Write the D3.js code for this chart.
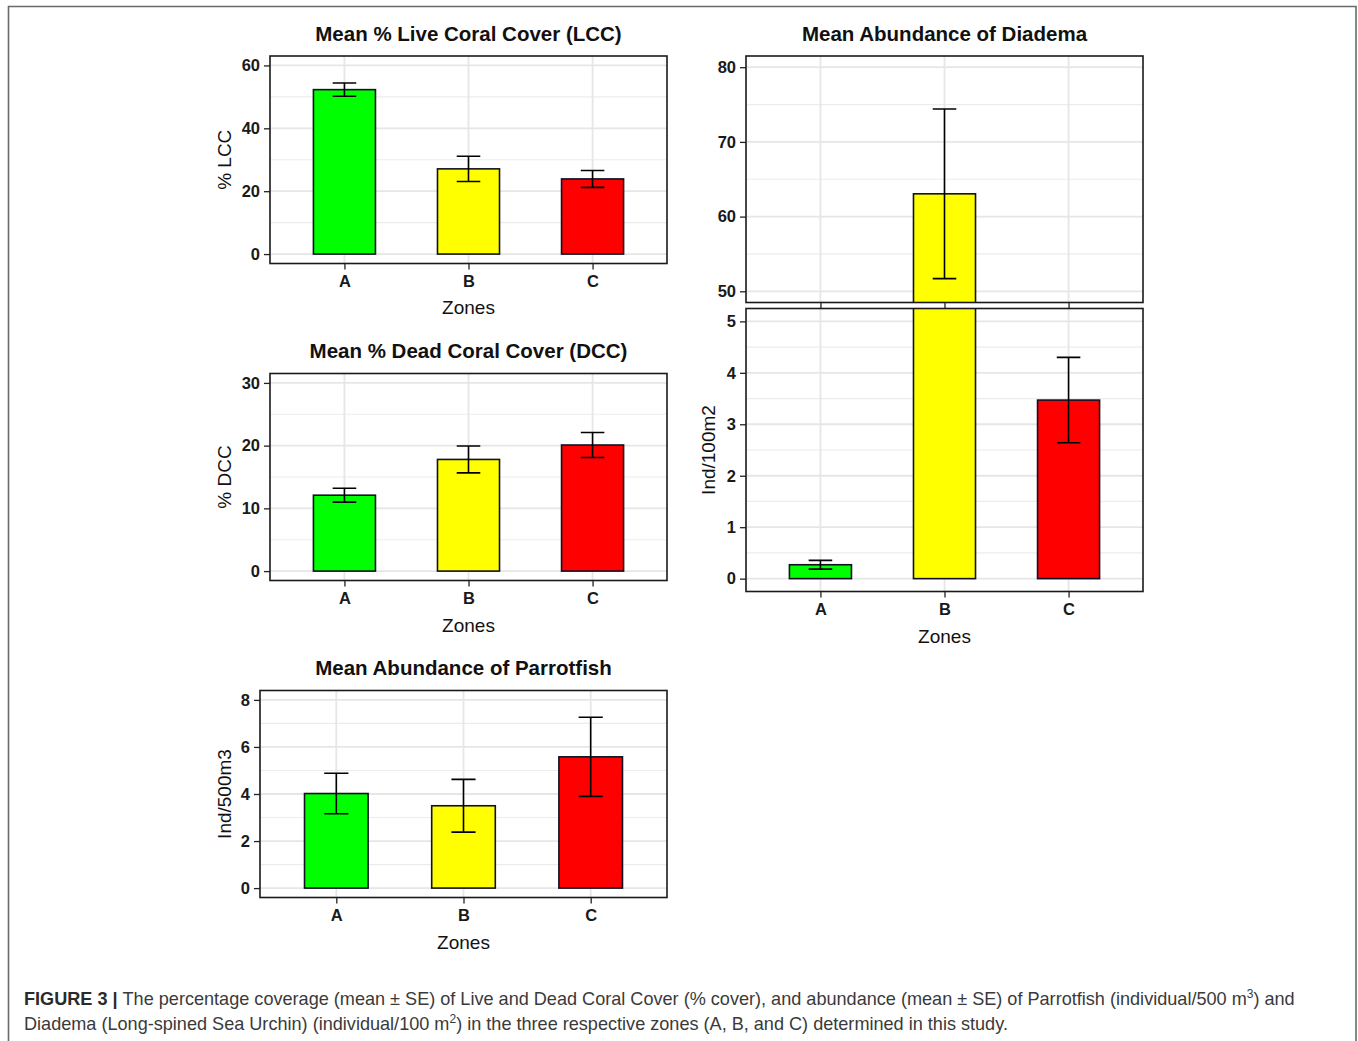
<!DOCTYPE html>
<html>
<head>
<meta charset="utf-8">
<script src="https://cdn.jsdelivr.net/npm/d3@7"></script>
<style>
  html, body { margin: 0; padding: 0; background: #fff; }
  svg { display: block; }
</style>
</head>
<body>
<svg id="chart" width="1358" height="1041"></svg>
<script>
// ---------------- DATA ----------------
const zones = ["A", "B", "C"];
const barColors = ["#00ff00", "#ffff00", "#ff0000"];

const lccMean = [52.3, 27.1, 23.9];
const lccSE   = [2.1, 4.0, 2.7];
const lccTicks = [0, 20, 40, 60];
const lccLimits = [0, 60];

const dccMean = [12.1, 17.8, 20.1];
const dccSE   = [1.1, 2.15, 2.0];
const dccTicks = [0, 10, 20, 30];
const dccLimits = [0, 30];

const parrotMean = [4.02, 3.5, 5.58];
const parrotSE   = [0.86, 1.12, 1.68];
const parrotTicks = [0, 2, 4, 6, 8];
const parrotLimits = [0, 8];

const diademaMean = [0.27, 63.05, 3.47];
const diademaSE   = [0.085, 11.35, 0.83];
const diademaTopTicks = [50, 60, 70, 80];
const diademaTopLimits = [50, 80];
const diademaBottomTicks = [0, 1, 2, 3, 4, 5];
const diademaBottomLimits = [0, 5];

const titles = ["Mean % Live Coral Cover (LCC)", "Mean % Dead Coral Cover (DCC)",
                "Mean Abundance of Parrotfish", "Mean Abundance of Diadema"];
const yTitles = ["% LCC", "% DCC", "Ind/500m3", "Ind/100m2"];
const xTitle = "Zones";

// ---------------- DRAW ----------------
const svg = d3.select("#chart");
const FONT = "'Liberation Sans', Arial, sans-serif";

// outer frame
svg.append("path")
  .attr("d", "M8.5,1041 L8.5,6.5 L1356,6.5 L1356,1041")
  .attr("fill", "none").attr("stroke", "#6a6a6a").attr("stroke-width", 1.6);

let clipId = 0;
function expand(lim) {
  const r = lim[1] - lim[0];
  return [lim[0] - 0.05 * r, lim[1] + 0.05 * r];
}

function panel(opt) {
  const {x0, x1, y0, y1, limits, ticks, mean, se, showXLabels} = opt;
  const g = svg.append("g");
  // ggplot discrete: positions 1..3 in [0.4,3.6]
  const xc = d3.scalePoint().domain(zones).range([x0 + (x1 - x0) * 0.6 / 3.2, x1 - (x1 - x0) * 0.6 / 3.2]);
  const step = (x1 - x0) / 3.2;
  const y = d3.scaleLinear().domain(expand(limits)).range([y1, y0]);

  const cid = "clip" + (clipId++);
  svg.append("clipPath").attr("id", cid)
    .append("rect").attr("x", x0).attr("y", y0).attr("width", x1 - x0).attr("height", y1 - y0);
  const inner = g.append("g").attr("clip-path", `url(#${cid})`);

  // minor grid
  const minor = [];
  for (let i = 0; i < ticks.length - 1; i++) minor.push((ticks[i] + ticks[i + 1]) / 2);
  const dt = ticks[1] - ticks[0];
  minor.push(ticks[ticks.length - 1] + dt / 2);
  minor.push(ticks[0] - dt / 2);
  inner.selectAll(".minor").data(minor).join("line")
    .attr("x1", x0).attr("x2", x1).attr("y1", d => y(d)).attr("y2", d => y(d))
    .attr("stroke", "#ececec").attr("stroke-width", 1.2);
  inner.selectAll(".major").data(ticks).join("line")
    .attr("x1", x0).attr("x2", x1).attr("y1", d => y(d)).attr("y2", d => y(d))
    .attr("stroke", "#e6e6e6").attr("stroke-width", 1.8);
  inner.selectAll(".vgrid").data(zones).join("line")
    .attr("x1", d => xc(d)).attr("x2", d => xc(d)).attr("y1", y0).attr("y2", y1)
    .attr("stroke", "#e6e6e6").attr("stroke-width", 1.8);

  // bars
  const bw = step * 0.5;
  inner.selectAll(".bar").data(zones).join("rect")
    .attr("x", d => xc(d) - bw / 2).attr("width", bw)
    .attr("y", (d, i) => y(mean[i])).attr("height", (d, i) => y(0) - y(mean[i]))
    .attr("fill", (d, i) => barColors[i])
    .attr("stroke", "#111122").attr("stroke-width", 1.6);

  // error bars
  const cw = step * 0.19;
  const eb = inner.selectAll(".eb").data(zones).join("g");
  eb.append("line")
    .attr("x1", d => xc(d)).attr("x2", d => xc(d))
    .attr("y1", (d, i) => y(mean[i] - se[i])).attr("y2", (d, i) => y(mean[i] + se[i]))
    .attr("stroke", "#000").attr("stroke-width", 1.6);
  eb.append("line")
    .attr("x1", d => xc(d) - cw / 2).attr("x2", d => xc(d) + cw / 2)
    .attr("y1", (d, i) => y(mean[i] + se[i])).attr("y2", (d, i) => y(mean[i] + se[i]))
    .attr("stroke", "#000").attr("stroke-width", 1.6);
  eb.append("line")
    .attr("x1", d => xc(d) - cw / 2).attr("x2", d => xc(d) + cw / 2)
    .attr("y1", (d, i) => y(mean[i] - se[i])).attr("y2", (d, i) => y(mean[i] - se[i]))
    .attr("stroke", "#000").attr("stroke-width", 1.6);

  // border
  g.append("rect").attr("x", x0).attr("y", y0).attr("width", x1 - x0).attr("height", y1 - y0)
    .attr("fill", "none").attr("stroke", "#1a1a1a").attr("stroke-width", 1.6);

  // y axis
  const yAxis = d3.axisLeft(y).tickValues(ticks).tickSize(6).tickPadding(4).tickFormat(d3.format("d"));
  const ya = g.append("g").attr("transform", `translate(${x0},0)`).call(yAxis);
  ya.select(".domain").remove();
  ya.selectAll(".tick line").attr("stroke", "#222").attr("stroke-width", 1.3);
  ya.selectAll(".tick text").attr("font-family", FONT).attr("font-size", 16.5)
    .attr("font-weight", "bold").attr("fill", "#1a1a1a");

  // x axis
  const xAxis = d3.axisBottom(xc).tickSize(6).tickPadding(6);
  const xa = g.append("g").attr("transform", `translate(0,${y1})`).call(xAxis);
  xa.select(".domain").remove();
  xa.selectAll(".tick line").attr("stroke", "#222").attr("stroke-width", 1.3);
  xa.selectAll(".tick text").attr("font-family", FONT).attr("font-size", 16.5)
    .attr("font-weight", "bold").attr("fill", "#1a1a1a")
    .style("display", showXLabels ? null : "none");

  if (opt.xTitleY) {
    g.append("text").attr("x", (x0 + x1) / 2).attr("y", opt.xTitleY)
      .attr("text-anchor", "middle").attr("font-family", FONT).attr("font-size", 19)
      .attr("fill", "#111").text(xTitle);
  }
  if (opt.title) {
    g.append("text").attr("x", (x0 + x1) / 2).attr("y", opt.titleY)
      .attr("text-anchor", "middle").attr("font-family", FONT).attr("font-size", 20.5)
      .attr("font-weight", "bold").attr("fill", "#111").text(opt.title);
  }
  if (opt.yTitle) {
    const cy = (y0 + y1) / 2;
    g.append("text").attr("transform", `translate(${opt.yTitleX},${cy}) rotate(-90)`)
      .attr("text-anchor", "middle").attr("font-family", FONT).attr("font-size", 19)
      .attr("fill", "#111").text(opt.yTitle);
  }
}

panel({x0: 270, x1: 667, y0: 56, y1: 263.5, limits: lccLimits, ticks: lccTicks,
       mean: lccMean, se: lccSE, showXLabels: true, xTitleY: 314,
       title: titles[0], titleY: 41, yTitle: yTitles[0], yTitleX: 231});

panel({x0: 270, x1: 667, y0: 373.5, y1: 580.5, limits: dccLimits, ticks: dccTicks,
       mean: dccMean, se: dccSE, showXLabels: true, xTitleY: 632,
       title: titles[1], titleY: 357.5, yTitle: yTitles[1], yTitleX: 231});

panel({x0: 260, x1: 667, y0: 690.5, y1: 897.5, limits: parrotLimits, ticks: parrotTicks,
       mean: parrotMean, se: parrotSE, showXLabels: true, xTitleY: 949,
       title: titles[2], titleY: 675, yTitle: yTitles[2], yTitleX: 231});

panel({x0: 746, x1: 1143, y0: 56, y1: 302.5, limits: diademaTopLimits, ticks: diademaTopTicks,
       mean: diademaMean, se: diademaSE, showXLabels: false,
       title: titles[3], titleY: 41});

panel({x0: 746, x1: 1143, y0: 308.5, y1: 591.5, limits: diademaBottomLimits, ticks: diademaBottomTicks,
       mean: diademaMean, se: diademaSE, showXLabels: true, xTitleY: 643,
       yTitle: yTitles[3], yTitleX: 715});

// caption
const cap = svg.append("g").attr("font-family", "'Liberation Sans', Helvetica, Arial, sans-serif")
  .attr("font-size", 18.1).attr("fill", "#3a3a3a");
const l1 = cap.append("text").attr("x", 24).attr("y", 1005);
l1.append("tspan").attr("font-weight", "bold").attr("fill", "#2a2a2a").text("FIGURE 3 | ");
l1.append("tspan").text("The percentage coverage (mean \u00b1 SE) of Live and Dead Coral Cover (% cover), and abundance (mean \u00b1 SE) of Parrotfish (individual/500 m");
l1.append("tspan").attr("font-size", 12).attr("dy", -7).text("3");
l1.append("tspan").attr("dy", 7).text(") and");
const l2 = cap.append("text").attr("x", 24).attr("y", 1030);
l2.append("tspan").text("Diadema (Long-spined Sea Urchin) (individual/100 m");
l2.append("tspan").attr("font-size", 12).attr("dy", -7).text("2");
l2.append("tspan").attr("dy", 7).text(") in the three respective zones (A, B, and C) determined in this study.");
</script>
</body>
</html>
